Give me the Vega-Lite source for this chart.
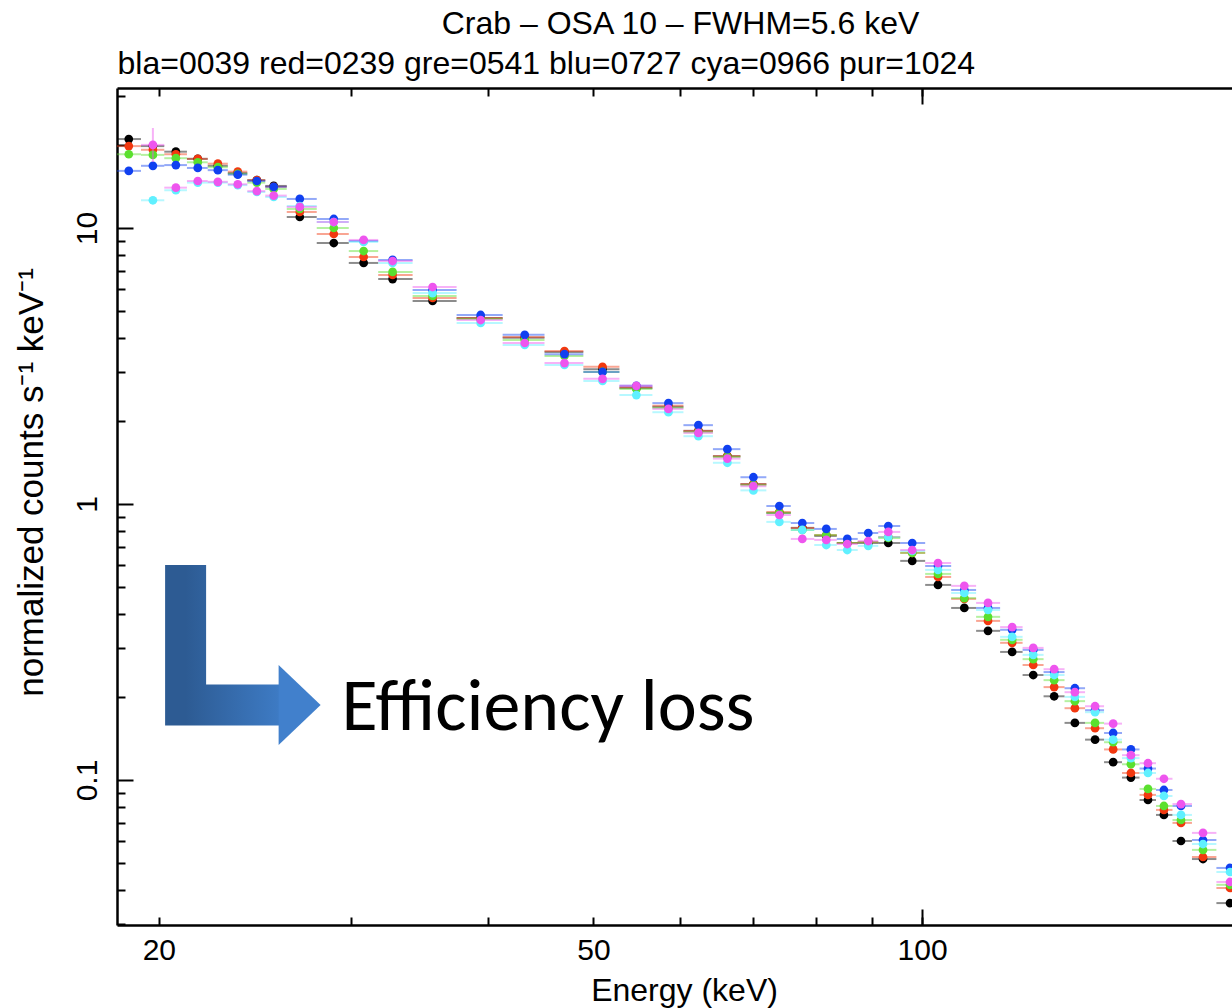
{
  "$schema": "https://vega.github.io/schema/vega-lite/v6.json",
  "width": 1115,
  "height": 837,
  "autosize": {"type": "none"},
  "padding": {"left": 117, "top": 88, "right": 0, "bottom": 83},
  "background": "white",
  "config": {
    "view": {"stroke": null},
    "axis": {
      "labelFont": "Liberation Sans",
      "titleFont": "Liberation Sans",
      "labelColor": "#000000",
      "titleColor": "#000000",
      "titleFontWeight": "normal",
      "domainColor": "#000000",
      "tickColor": "#000000",
      "domainWidth": 2.5,
      "tickWidth": 2,
      "grid": false,
      "labelFontSize": 30,
      "titleFontSize": 32
    }
  },
  "datasets": {
    "bins": [
      {"E": 18.77, "lo": 18.31, "hi": 19.26, "bla": 21.0, "red": 19.8, "gre": 18.5, "blu": 16.1, "cya": null, "pur": null},
      {"E": 19.75, "lo": 19.26, "hi": 20.23, "bla": 19.8, "red": 19.2, "gre": 18.4, "blu": 16.8, "cya": 12.6, "pur": 20.0},
      {"E": 20.73, "lo": 20.23, "hi": 21.22, "bla": 18.9, "red": 18.5, "gre": 17.9, "blu": 16.9, "cya": 13.7, "pur": 14.0},
      {"E": 21.71, "lo": 21.22, "hi": 22.17, "bla": 17.8, "red": 17.8, "gre": 17.3, "blu": 16.5, "cya": 14.6, "pur": 14.8},
      {"E": 22.65, "lo": 22.17, "hi": 23.13, "bla": 16.8, "red": 17.1, "gre": 16.6, "blu": 16.2, "cya": 14.6, "pur": 14.7},
      {"E": 23.62, "lo": 23.13, "hi": 24.10, "bla": 15.8, "red": 16.0, "gre": 15.7, "blu": 15.6, "cya": 14.3, "pur": 14.4},
      {"E": 24.59, "lo": 24.10, "hi": 25.03, "bla": 14.9, "red": 14.9, "gre": 14.6, "blu": 14.8, "cya": 13.5, "pur": 13.6},
      {"E": 25.48, "lo": 25.03, "hi": 26.19, "bla": 14.2, "red": 14.1, "gre": 13.85, "blu": 14.1, "cya": 12.95, "pur": 13.1},
      {"E": 26.92, "lo": 26.19, "hi": 27.90, "bla": 10.96, "red": 11.43, "gre": 11.72, "blu": 12.74, "cya": 12.01, "pur": 11.92},
      {"E": 28.92, "lo": 27.90, "hi": 29.85, "bla": 8.82, "red": 9.51, "gre": 10.0, "blu": 10.78, "cya": 10.51, "pur": 10.51},
      {"E": 30.80, "lo": 29.85, "hi": 31.76, "bla": 7.47, "red": 7.85, "gre": 8.25, "blu": 8.97, "cya": 8.90, "pur": 9.05},
      {"E": 32.74, "lo": 31.76, "hi": 34.15, "bla": 6.53, "red": 6.76, "gre": 6.93, "blu": 7.66, "cya": 7.47, "pur": 7.59},
      {"E": 35.62, "lo": 34.15, "hi": 37.47, "bla": 5.44, "red": 5.58, "gre": 5.67, "blu": 5.96, "cya": 5.81, "pur": 6.11},
      {"E": 39.42, "lo": 37.47, "hi": 41.29, "bla": 4.72, "red": 4.72, "gre": 4.68, "blu": 4.84, "cya": 4.53, "pur": 4.64},
      {"E": 43.26, "lo": 41.29, "hi": 45.10, "bla": 4.00, "red": 4.03, "gre": 3.93, "blu": 4.10, "cya": 3.77, "pur": 3.83},
      {"E": 47.04, "lo": 45.10, "hi": 48.95, "bla": 3.55, "red": 3.58, "gre": 3.44, "blu": 3.49, "cya": 3.19, "pur": 3.24},
      {"E": 50.97, "lo": 48.95, "hi": 52.82, "bla": 3.08, "red": 3.14, "gre": 3.01, "blu": 3.01, "cya": 2.79, "pur": 2.84},
      {"E": 54.74, "lo": 52.82, "hi": 56.62, "bla": 2.63, "red": 2.65, "gre": 2.61, "blu": 2.68, "cya": 2.48, "pur": 2.68},
      {"E": 58.57, "lo": 56.62, "hi": 60.45, "bla": 2.25, "red": 2.27, "gre": 2.23, "blu": 2.32, "cya": 2.15, "pur": 2.21},
      {"E": 62.39, "lo": 60.45, "hi": 64.33, "bla": 1.84, "red": 1.84, "gre": 1.82, "blu": 1.93, "cya": 1.76, "pur": 1.81},
      {"E": 66.32, "lo": 64.33, "hi": 68.17, "bla": 1.49, "red": 1.49, "gre": 1.48, "blu": 1.58, "cya": 1.41, "pur": 1.46},
      {"E": 70.06, "lo": 68.17, "hi": 72.00, "bla": 1.18, "red": 1.18, "gre": 1.17, "blu": 1.25, "cya": 1.12, "pur": 1.16},
      {"E": 74.00, "lo": 72.00, "hi": 75.81, "bla": 0.928, "red": 0.935, "gre": 0.928, "blu": 0.983, "cya": 0.861, "pur": 0.912},
      {"E": 77.67, "lo": 75.81, "hi": 79.65, "bla": 0.819, "red": 0.819, "gre": 0.805, "blu": 0.853, "cya": 0.805, "pur": 0.747},
      {"E": 81.70, "lo": 79.65, "hi": 83.53, "bla": 0.766, "red": 0.772, "gre": 0.772, "blu": 0.812, "cya": 0.710, "pur": 0.741},
      {"E": 85.40, "lo": 83.53, "hi": 87.30, "bla": 0.722, "red": 0.722, "gre": 0.722, "blu": 0.747, "cya": 0.681, "pur": 0.716},
      {"E": 89.26, "lo": 87.30, "hi": 91.16, "bla": 0.722, "red": 0.728, "gre": 0.728, "blu": 0.785, "cya": 0.705, "pur": 0.734},
      {"E": 93.11, "lo": 91.16, "hi": 95.48, "bla": 0.722, "red": 0.759, "gre": 0.753, "blu": 0.832, "cya": 0.759, "pur": 0.792},
      {"E": 97.93, "lo": 95.48, "hi": 100.64, "bla": 0.622, "red": 0.665, "gre": 0.665, "blu": 0.722, "cya": 0.676, "pur": 0.681},
      {"E": 103.4, "lo": 100.64, "hi": 106.31, "bla": 0.509, "red": 0.544, "gre": 0.558, "blu": 0.596, "cya": 0.577, "pur": 0.611},
      {"E": 109.3, "lo": 106.31, "hi": 112.05, "bla": 0.420, "red": 0.453, "gre": 0.456, "blu": 0.488, "cya": 0.476, "pur": 0.505},
      {"E": 114.9, "lo": 112.05, "hi": 117.87, "bla": 0.347, "red": 0.377, "gre": 0.390, "blu": 0.420, "cya": 0.413, "pur": 0.438},
      {"E": 120.9, "lo": 117.87, "hi": 123.59, "bla": 0.291, "red": 0.314, "gre": 0.322, "blu": 0.350, "cya": 0.330, "pur": 0.358},
      {"E": 126.4, "lo": 123.59, "hi": 129.18, "bla": 0.240, "red": 0.261, "gre": 0.274, "blu": 0.296, "cya": 0.284, "pur": 0.301},
      {"E": 132.1, "lo": 129.18, "hi": 135.02, "bla": 0.201, "red": 0.217, "gre": 0.230, "blu": 0.246, "cya": 0.240, "pur": 0.252},
      {"E": 138.0, "lo": 135.02, "hi": 140.99, "bla": 0.161, "red": 0.182, "gre": 0.193, "blu": 0.215, "cya": 0.200, "pur": 0.208},
      {"E": 144.0, "lo": 140.99, "hi": 146.75, "bla": 0.140, "red": 0.154, "gre": 0.161, "blu": 0.179, "cya": 0.176, "pur": 0.185},
      {"E": 149.6, "lo": 146.75, "hi": 152.42, "bla": 0.116, "red": 0.129, "gre": 0.137, "blu": 0.148, "cya": 0.140, "pur": 0.160},
      {"E": 155.3, "lo": 152.42, "hi": 158.15, "bla": 0.102, "red": 0.106, "gre": 0.114, "blu": 0.129, "cya": 0.120, "pur": 0.123},
      {"E": 161.0, "lo": 158.15, "hi": 163.74, "bla": 0.0846, "red": 0.0883, "gre": 0.0928, "blu": 0.110, "cya": 0.106, "pur": 0.115},
      {"E": 166.5, "lo": 163.74, "hi": 169.53, "bla": 0.0747, "red": 0.0779, "gre": 0.0805, "blu": 0.0920, "cya": 0.0875, "pur": 0.101},
      {"E": 172.6, "lo": 169.53, "hi": 176.64, "bla": 0.0601, "red": 0.0699, "gre": 0.0716, "blu": 0.0805, "cya": 0.0747, "pur": 0.0818},
      {"E": 180.8, "lo": 176.64, "hi": 185.98, "bla": 0.0517, "red": 0.0526, "gre": 0.0558, "blu": 0.0606, "cya": 0.0586, "pur": 0.0643},
      {"E": 191.4, "lo": 185.98, "hi": 197.07, "bla": 0.0358, "red": 0.0406, "gre": 0.0417, "blu": 0.0480, "cya": 0.0464, "pur": 0.0427}
    ]
  },
  "layer": [
    {
      "data": {"name": "bins"},
      "transform": [
        {"fold": ["bla", "red", "gre", "blu", "cya", "pur"], "as": ["series", "val"]},
        {"filter": "isValid(datum.val)"}
      ],
      "mark": {"type": "rule", "strokeWidth": 2, "opacity": 0.45, "clip": true},
      "encoding": {
        "x": {
          "field": "lo", "type": "quantitative",
          "scale": {"type": "log", "domain": [18.31, 192.2], "nice": false},
          "axis": {
            "orient": "bottom",
            "values": [20, 30, 40, 50, 60, 70, 80, 90, 100],
            "tickSize": -8,
            "format": "d",
            "labelExpr": "indexof([20, 50, 100], datum.value) >= 0 ? datum.label : ''",
            "labelPadding": 18,
            "labelOverlap": false,
            "labelFlush": false,
            "title": "Energy (keV)",
            "titleX": 567,
            "titleY": 75,
            "titleBaseline": "alphabetic"
          }
        },
        "x2": {"field": "hi"},
        "y": {
          "field": "val", "type": "quantitative",
          "scale": {"type": "log", "domain": [0.02982, 32.15], "nice": false},
          "axis": {
            "orient": "left",
            "values": [0.03, 0.04, 0.05, 0.06, 0.07, 0.08, 0.09, 0.2, 0.3, 0.4, 0.5, 0.6, 0.7, 0.8, 0.9, 2, 3, 4, 5, 6, 7, 8, 9, 20, 30],
            "tickSize": -8,
            "labels": false,
            "title": "normalized counts s⁻¹ keV⁻¹",
            "titleFontSize": 35,
            "titleX": -86,
            "titleY": 394,
            "titleBaseline": "middle"
          }
        },
        "color": {
          "field": "series", "type": "nominal",
          "scale": {"domain": ["bla", "red", "gre", "blu", "cya", "pur"], "range": ["#000000", "#f2380f", "#5ae02e", "#1040f0", "#60f0ff", "#ee55ee"]},
          "legend": null
        }
      }
    },
    {
      "data": {"name": "bins"},
      "transform": [
        {"fold": ["bla", "red", "gre", "blu", "cya", "pur"], "as": ["series", "val"]},
        {"filter": "isValid(datum.val)"}
      ],
      "mark": {"type": "circle", "size": 76, "opacity": 1, "clip": true},
      "encoding": {
        "x": {
          "field": "E", "type": "quantitative",
          "scale": {"type": "log", "domain": [18.31, 192.2], "nice": false},
          "axis": {"orient": "bottom", "values": [100], "tickSize": -16, "labels": false, "domain": false, "title": null}
        },
        "y": {
          "field": "val", "type": "quantitative",
          "scale": {"type": "log", "domain": [0.02982, 32.15], "nice": false},
          "axis": {"orient": "left", "values": [0.1, 1, 10], "tickSize": -16, "format": "~g", "labelAngle": -90, "labelAlign": "center", "labelBaseline": "bottom", "labelPadding": 31, "domain": false, "title": null}
        },
        "color": {
          "field": "series", "type": "nominal",
          "scale": {"domain": ["bla", "red", "gre", "blu", "cya", "pur"], "range": ["#000000", "#f2380f", "#5ae02e", "#1040f0", "#60f0ff", "#ee55ee"]},
          "legend": null
        }
      }
    },
    {
      "data": {"values": [{"E": 19.75, "lo": 17.34, "hi": 23.03}]},
      "mark": {"type": "rule", "color": "#ee55ee", "opacity": 0.45, "strokeWidth": 2},
      "encoding": {
        "x": {
          "field": "E", "type": "quantitative",
          "scale": {"type": "log", "domain": [18.31, 192.2], "nice": false},
          "axis": {
            "orient": "top",
            "values": [20, 30, 40, 50, 60, 70, 80, 90, 100],
            "tickSize": -8,
            "labels": false,
            "title": "bla=0039 red=0239 gre=0541 blu=0727 cya=0966 pur=1024",
            "titleAnchor": "start",
            "titleAlign": "left",
            "titleX": 0,
            "titleY": -15,
            "titleBaseline": "alphabetic"
          }
        },
        "y": {"field": "lo", "type": "quantitative", "scale": {"type": "log", "domain": [0.02982, 32.15], "nice": false}, "axis": null},
        "y2": {"field": "hi"}
      }
    },
    {
      "data": {"values": [
        {"E": 21.16, "v": 0.601, "o": 1},
        {"E": 21.16, "v": 0.187, "o": 2},
        {"E": 25.97, "v": 0.187, "o": 3}
      ]},
      "mark": {
        "type": "line", "strokeWidth": 41, "strokeCap": "butt", "strokeJoin": "miter",
        "color": {"gradient": "linear", "x1": 0, "x2": 1, "y1": 0, "y2": 0,
          "stops": [{"offset": 0, "color": "#2d5b93"}, {"offset": 1, "color": "#3e7cc6"}]}
      },
      "encoding": {
        "x": {
          "field": "E", "type": "quantitative",
          "scale": {"type": "log", "domain": [18.31, 192.2], "nice": false},
          "axis": {
            "orient": "top", "values": [100], "tickSize": -16, "labels": false, "domain": false,
            "title": "Crab – OSA 10 – FWHM=5.6 keV",
            "titleY": -55,
            "titleX": 563,
            "titleBaseline": "alphabetic"
          }
        },
        "y": {"field": "v", "type": "quantitative", "scale": {"type": "log", "domain": [0.02982, 32.15], "nice": false}, "axis": null},
        "order": {"field": "o"}
      }
    },
    {
      "data": {"values": [{"E": 26.91, "v": 0.187}]},
      "mark": {"type": "point", "filled": true, "opacity": 1, "size": 6400, "shape": "M-0.525,-1L0.525,0L-0.525,1Z", "color": "#4180cc"},
      "encoding": {
        "x": {"field": "E", "type": "quantitative", "scale": {"type": "log", "domain": [18.31, 192.2], "nice": false}, "axis": null},
        "y": {"field": "v", "type": "quantitative", "scale": {"type": "log", "domain": [0.02982, 32.15], "nice": false}, "axis": null}
      }
    },
    {
      "data": {"values": [{"E": 29.4, "v": 0.152, "t": "Efficiency loss"}]},
      "mark": {"type": "text", "align": "left", "baseline": "alphabetic", "font": "Carlito, Lato, sans-serif", "fontSize": 74, "color": "#000000"},
      "encoding": {
        "x": {"field": "E", "type": "quantitative", "scale": {"type": "log", "domain": [18.31, 192.2], "nice": false}, "axis": null},
        "y": {"field": "v", "type": "quantitative", "scale": {"type": "log", "domain": [0.02982, 32.15], "nice": false}, "axis": null},
        "text": {"field": "t"}
      }
    }
  ],
  "resolve": {"axis": {"x": "independent", "y": "independent"}}
}
